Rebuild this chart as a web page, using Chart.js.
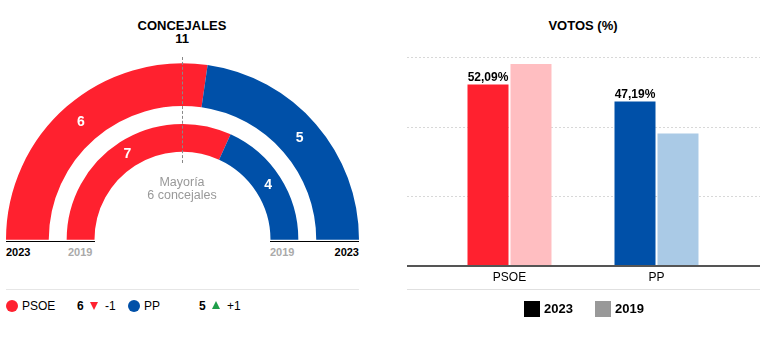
<!DOCTYPE html>
<html>
<head>
<meta charset="utf-8">
<script src="https://cdn.jsdelivr.net/npm/chart.js@4/dist/chart.umd.min.js"></script>
<style>
  body { margin: 0; width: 772px; height: 351px; background: #fff; font-family: "Liberation Sans", Arial, sans-serif; position: relative; overflow: hidden; }
  .abs { position: absolute; }
  .title { font-weight: bold; font-size: 13px; color: #000; text-align: center; line-height: 13px; }
  .yr { font-weight: bold; font-size: 11px; line-height: 12px; }
  .leg { font-size: 12px; line-height: 14px; color: #000; }
  .dot { width: 12px; height: 12px; border-radius: 50%; }
</style>
</head>
<body>
<!-- left: concejales -->
<div class="abs title" style="left:102px;top:19px;width:160px;">CONCEJALES<br>11</div>
<canvas id="seatsChart" class="abs" style="left:6px;top:63px;" width="353" height="177"></canvas>
<div class="abs" style="left:182px;top:57px;height:106px;border-left:1px dashed #888;"></div>
<div class="abs" style="left:112px;top:176px;width:140px;text-align:center;color:#999;font-size:12.5px;line-height:13px;">Mayoría<br>6 concejales</div>
<div class="abs" style="left:6px;top:241px;width:89px;height:1px;background:#000;"></div>
<div class="abs" style="left:270px;top:241px;width:89px;height:1px;background:#000;"></div>
<div class="abs yr" style="left:6px;top:246px;color:#000;">2023</div>
<div class="abs yr" style="left:68px;top:246px;color:#aaa;">2019</div>
<div class="abs yr" style="left:270px;top:246px;color:#aaa;">2019</div>
<div class="abs yr" style="left:329px;top:246px;width:30px;text-align:right;color:#000;">2023</div>
<div class="abs" style="left:6px;top:289px;width:353px;height:1px;background:#e6e6e6;"></div>
<div id="seatLegend"></div>

<!-- right: votos -->
<div class="abs title" style="left:503px;top:19px;width:160px;">VOTOS (%)</div>
<canvas id="votesChart" class="abs" style="left:380px;top:40px;" width="392" height="260"></canvas>
<div class="abs" style="left:407px;top:289px;width:353px;height:1px;background:#e0e0e0;"></div>
<div class="abs" style="left:524px;top:301px;width:16px;height:16px;background:#000;"></div>
<div class="abs yr" style="left:544px;top:303px;font-size:13px;">2023</div>
<div class="abs" style="left:595px;top:301px;width:16px;height:16px;background:#999;"></div>
<div class="abs yr" style="left:615px;top:303px;font-size:13px;">2019</div>

<script>
// data
var parties = ['PSOE', 'PP'];
var seats2023 = [6, 5];
var seats2019 = [7, 4];
var votes2023 = [52.09, 47.19];
var votes2019 = [58.0, 38.0];
var yTicks = [0, 20, 40, 60];

var partyColors = ['#ff212f', '#0050a8'];
var lightColors = ['#ffbec1', '#aacae6'];

// seats legend row
(function() {
  var holder = document.getElementById('seatLegend');
  var xs = [6, 128];
  parties.forEach(function(p, i) {
    var diff = seats2023[i] - seats2019[i];
    var x = xs[i];
    var up = diff > 0;
    holder.innerHTML +=
      '<div class="abs dot" style="left:' + x + 'px;top:300px;background:' + partyColors[i] + ';"></div>' +
      '<div class="abs leg" style="left:' + (x + 16) + 'px;top:299px;">' + p + '</div>' +
      '<div class="abs leg" style="left:' + (x + 71) + 'px;top:299px;font-weight:bold;">' + seats2023[i] + '</div>' +
      '<div class="abs" style="left:' + (x + 84) + 'px;top:' + (up ? 301 : 302) + 'px;width:0;height:0;border-left:4px solid transparent;border-right:4px solid transparent;' +
        (up ? 'border-bottom:8px solid #1e9e4a;' : 'border-top:8px solid #ff212f;') + '"></div>' +
      '<div class="abs leg" style="left:' + (x + 99) + 'px;top:299px;">' + (up ? '+' : '') + diff + '</div>';
  });
})();

// ring labels
var ringLabels = {
  id: 'ringLabels',
  afterDatasetsDraw: function(chart) {
    var ctx = chart.ctx;
    ctx.save();
    ctx.fillStyle = '#fff';
    ctx.font = 'bold 14px "Liberation Sans", Arial, sans-serif';
    ctx.textAlign = 'center';
    ctx.textBaseline = 'middle';
    [0, 2].forEach(function(di) {
      var meta = chart.getDatasetMeta(di);
      meta.data.forEach(function(arc, i) {
        var pos = arc.tooltipPosition();
        ctx.fillText(String(chart.data.datasets[di].data[i]), pos.x, pos.y);
      });
    });
    ctx.restore();
  }
};

new Chart(document.getElementById('seatsChart'), {
  type: 'doughnut',
  data: {
    labels: parties,
    datasets: [
      { label: '2023', data: seats2023, backgroundColor: partyColors, weight: 43 },
      { label: 'gap', data: [1], backgroundColor: ['rgba(0,0,0,0)'], weight: 18 },
      { label: '2019', data: seats2019, backgroundColor: partyColors, weight: 28 }
    ]
  },
  options: {
    responsive: false,
    animation: false,
    rotation: -90,
    circumference: 180,
    cutout: '49.86%',
    elements: { arc: { borderWidth: 0 } },
    layout: { padding: 0 },
    events: [],
    plugins: { legend: { display: false }, tooltip: { enabled: false } }
  },
  plugins: [ringLabels]
});

// grid lines across the full panel width
var wideGrid = {
  id: 'wideGrid',
  beforeDatasetsDraw: function(chart) {
    var ctx = chart.ctx;
    var y = chart.scales.y;
    ctx.save();
    ctx.strokeStyle = '#d8d8d8';
    ctx.lineWidth = 1;
    ctx.setLineDash([2, 2]);
    yTicks.forEach(function(v) {
      if (v === 0) return;
      var py = Math.round(y.getPixelForValue(v)) + 0.5;
      ctx.beginPath();
      ctx.moveTo(27, py);
      ctx.lineTo(380, py);
      ctx.stroke();
    });
    ctx.restore();
  },
  afterDatasetsDraw: function(chart) {
    var ctx = chart.ctx;
    var py = Math.round(chart.scales.y.getPixelForValue(0));
    ctx.save();
    ctx.strokeStyle = '#555';
    ctx.lineWidth = 2;
    ctx.beginPath();
    ctx.moveTo(27, py);
    ctx.lineTo(380, py);
    ctx.stroke();
    // value labels on 2023 bars
    ctx.fillStyle = '#000';
    ctx.font = 'bold 12px "Liberation Sans", Arial, sans-serif';
    ctx.textAlign = 'center';
    ctx.textBaseline = 'bottom';
    chart.getDatasetMeta(0).data.forEach(function(bar, i) {
      ctx.fillText(votes2023[i].toFixed(2).replace('.', ',') + '%', bar.x, bar.y - 1);
    });
    ctx.restore();
  }
};

new Chart(document.getElementById('votesChart'), {
  type: 'bar',
  data: {
    labels: parties,
    datasets: [
      { label: '2023', data: votes2023, backgroundColor: partyColors },
      { label: '2019', data: votes2019, backgroundColor: lightColors }
    ]
  },
  options: {
    responsive: false,
    animation: false,
    events: [],
    categoryPercentage: 0.585,
    barPercentage: 0.9535,
    layout: { padding: { left: 56, right: 42, top: 17, bottom: 10 } },
    plugins: { legend: { display: false }, tooltip: { enabled: false } },
    scales: {
      x: {
        grid: { display: false, drawTicks: false },
        border: { display: false },
        ticks: { color: '#000', font: { size: 12, family: '"Liberation Sans", Arial, sans-serif' }, padding: 5 }
      },
      y: {
        display: false,
        min: yTicks[0],
        max: yTicks[yTicks.length - 1],
        ticks: { stepSize: 20 }
      }
    }
  },
  plugins: [wideGrid]
});
</script>
</body>
</html>
